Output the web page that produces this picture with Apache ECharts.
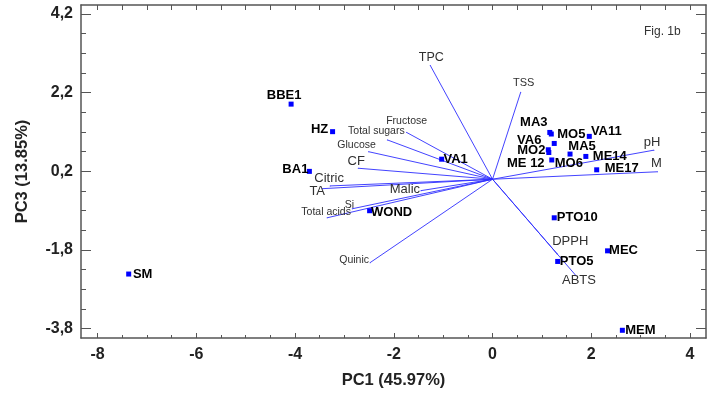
<!DOCTYPE html>
<html>
<head>
<meta charset="utf-8">
<script src="https://cdn.jsdelivr.net/npm/echarts@6/dist/echarts.min.js"></script>
<style>
  html, body { margin: 0; padding: 0; background: #fff; }
  #chart { width: 707px; height: 396px; }
</style>
</head>
<body>
<div id="chart"></div>
<script>
// PCA biplot: sample scores and variable loadings on PC1 / PC3
const sampleNames = ['BBE1', 'HZ', 'BA1', 'VA1', 'WOND', 'SM', 'PTO10', 'PTO5', 'MEC', 'MEM',
  'MA3', 'MO5', 'VA11', 'VA6', 'MO2', 'MA5', 'ME 12', 'MO6', 'ME14', 'ME17'];
const samplePC1 = [-4.08, -3.24, -3.71, -1.03, -2.49, -7.37, 1.25, 1.32, 2.33, 2.63,
  1.16, 1.19, 1.96, 1.25, 1.13, 1.57, 1.14, 1.20, 1.89, 2.11];
const samplePC3 = [1.91, 1.21, 0.20, 0.51, -0.80, -2.41, -0.98, -2.09, -1.82, -3.84,
  1.19, 1.15, 1.09, 0.91, 0.75, 0.64, 0.68, 0.49, 0.58, 0.24];

const variableNames = ['TPC', 'TSS', 'Fructose', 'Total sugars', 'Glucose', 'CF', 'Citric', 'TA',
  'Malic', 'Si', 'Total acids', 'Quinic', 'DPPH', 'ABTS', 'pH', 'M'];
const loadingPC1 = [-1.26, 0.57, -1.74, -2.13, -2.51, -2.72, -3.29, -3.45,
  -1.45, -2.84, -3.35, -2.48, 1.31, 1.69, 3.27, 3.34];
const loadingPC3 = [2.89, 2.21, 1.19, 1.00, 0.70, 0.28, -0.17, -0.24,
  -0.29, -0.75, -0.98, -2.12, -1.90, -2.45, 0.74, 0.19];

const pc1TickLabels = [-8, -6, -4, -2, 0, 2, 4];
const pc3TickLabels = [-3.8, -1.8, 0.2, 2.2, 4.2];

// axis extents and minor tick positions
const X_MIN = -8.336, X_MAX = 4.324;
const Y_MIN = -4.036, Y_MAX = 4.43;
const pc1Minor = [];
for (let v = -8; v <= 4.001; v += 0.5) pc1Minor.push(Math.round(v * 10) / 10);
const pc3Minor = [];
for (let v = -3.8; v <= 4.201; v += 0.5) pc3Minor.push(Math.round(v * 10) / 10);

// label placement (text centre relative to the point, px)
const sampleLabelOffset = {
  'BBE1': [-7, -9], 'HZ': [-13, -2], 'BA1': [-14, -2], 'VA1': [14, 0], 'WOND': [22, 2],
  'SM': [14, 0], 'PTO10': [23, 0], 'PTO5': [19, 0], 'MEC': [16, 0], 'MEM': [18, 0],
  'MA3': [-16, -10], 'MO5': [20, 0], 'VA11': [17, -5], 'VA6': [-25, -3], 'MO2': [-17, 1],
  'MA5': [12, -8], 'ME 12': [-23, 11], 'MO6': [17, 3], 'ME14': [24, 0], 'ME17': [25, -1]
};
const variableLabelStyle = {
  'TPC': [1, -8, 12.5], 'TSS': [3, -9, 11], 'Fructose': [0, -11, 10.5],
  'Total sugars': [-11, -9, 10.5], 'Glucose': [-12, -7, 10.5], 'CF': [-2, -7, 13],
  'Citric': [-1, -8, 13], 'TA': [-5, 3, 13], 'Malic': [-16, -1, 13], 'Si': [-3, -4, 10.5],
  'Total acids': [-1, -6, 10.5], 'Quinic': [-16, -3, 10.5], 'DPPH': [13, -13, 13],
  'ABTS': [3, 5, 13], 'pH': [-2, -8, 13], 'M': [-1, -8, 13]
};

const FONT = '"Liberation Sans", Arial, sans-serif';
const frameColor = '#555';
const vectorColor = '#2f2fff';
const frameLine = { show: true, onZero: false, lineStyle: { color: frameColor, width: 1.5 } };
const hiddenLine = { show: false, onZero: false };
const tickStyle = { color: frameColor, width: 1 };

function xAxisDef(position, ticks, len, opts) {
  return Object.assign({
    type: 'value', min: X_MIN, max: X_MAX, position: position, gridIndex: 0,
    axisLine: hiddenLine,
    axisTick: { show: true, inside: true, length: len, customValues: ticks, lineStyle: tickStyle },
    axisLabel: { show: false },
    splitLine: { show: false }
  }, opts || {});
}
function yAxisDef(position, ticks, len, opts) {
  return Object.assign({
    type: 'value', min: Y_MIN, max: Y_MAX, position: position, gridIndex: 0,
    axisLine: hiddenLine,
    axisTick: { show: true, inside: true, length: len, customValues: ticks, lineStyle: tickStyle },
    axisLabel: { show: false },
    splitLine: { show: false }
  }, opts || {});
}

const chart = echarts.init(document.getElementById('chart'), null, { renderer: 'canvas' });

// one label-only scatter series per variable so each keeps its own text style
const variableLabelSeries = variableNames.map((n, i) => {
  const s = variableLabelStyle[n];
  return {
    type: 'scatter', xAxisIndex: 0, yAxisIndex: 0, symbol: 'circle', symbolSize: 1, z: 3,
    silent: true,
    itemStyle: { color: vectorColor, opacity: 1 },
    label: {
      show: true, position: 'inside', formatter: '{b}', color: '#303030', opacity: 1,
      fontFamily: FONT, fontSize: s[2], textBorderWidth: 0,
      align: 'center', verticalAlign: 'middle', offset: [s[0], s[1]]
    },
    data: [{ name: n, value: [loadingPC1[i], loadingPC3[i]] }]
  };
});

const option = {
  animation: false,
  backgroundColor: '#fff',
  textStyle: { fontFamily: FONT },
  grid: { left: 81, right: 1, top: 5, bottom: 58, containLabel: false },
  xAxis: [
    xAxisDef('bottom', pc1TickLabels, 5, {
      axisLine: frameLine,
      axisLabel: {
        show: true, customValues: pc1TickLabels, margin: 9,
        fontFamily: FONT, fontSize: 16, fontWeight: 'bold', color: '#222',
        formatter: v => String(v)
      },
      name: 'PC1 (45.97%)', nameLocation: 'middle', nameGap: 34,
      nameTextStyle: { fontFamily: FONT, fontSize: 16.5, fontWeight: 'bold', color: '#222' }
    }),
    xAxisDef('bottom', pc1Minor, 3),
    xAxisDef('top', pc1Minor, 5, { axisLine: frameLine })
  ],
  yAxis: [
    yAxisDef('left', pc3TickLabels, 10, {
      axisLine: frameLine,
      axisLabel: {
        show: true, customValues: pc3TickLabels, margin: 8,
        fontFamily: FONT, fontSize: 16, fontWeight: 'bold', color: '#222',
        formatter: v => v.toFixed(1).replace('.', ',')
      },
      name: 'PC3 (13.85%)', nameLocation: 'middle', nameGap: 50,
      nameTextStyle: { fontFamily: FONT, fontSize: 16.5, fontWeight: 'bold', color: '#222' }
    }),
    yAxisDef('left', pc3Minor, 5),
    yAxisDef('right', pc3TickLabels, 10, { axisLine: frameLine }),
    yAxisDef('right', pc3Minor, 5)
  ],
  graphic: [{
    type: 'text', left: 644, top: 26,
    style: { text: 'Fig. 1b', fontFamily: FONT, fontSize: 12, fill: '#333' }
  }],
  series: [
    {
      // loading vectors from the origin
      type: 'lines', coordinateSystem: 'cartesian2d', xAxisIndex: 0, yAxisIndex: 0,
      silent: true, z: 2,
      lineStyle: { color: vectorColor, width: 1, opacity: 0.9 },
      data: variableNames.map((n, i) => ({ name: n, coords: [[0, 0], [loadingPC1[i], loadingPC3[i]]] }))
    }
  ].concat(variableLabelSeries, [
    {
      // sample scores
      type: 'scatter', xAxisIndex: 0, yAxisIndex: 0, symbol: 'rect', symbolSize: 5, z: 4,
      itemStyle: { color: '#0000ff', opacity: 1 },
      label: {
        show: true, position: 'inside', formatter: '{b}', color: '#000', opacity: 1,
        fontFamily: FONT, fontSize: 13, fontWeight: 'bold', textBorderWidth: 0,
        align: 'center', verticalAlign: 'middle'
      },
      data: sampleNames.map((n, i) => ({
        name: n, value: [samplePC1[i], samplePC3[i]],
        label: { offset: sampleLabelOffset[n] }
      }))
    }
  ])
};

chart.setOption(option);
</script>
</body>
</html>
